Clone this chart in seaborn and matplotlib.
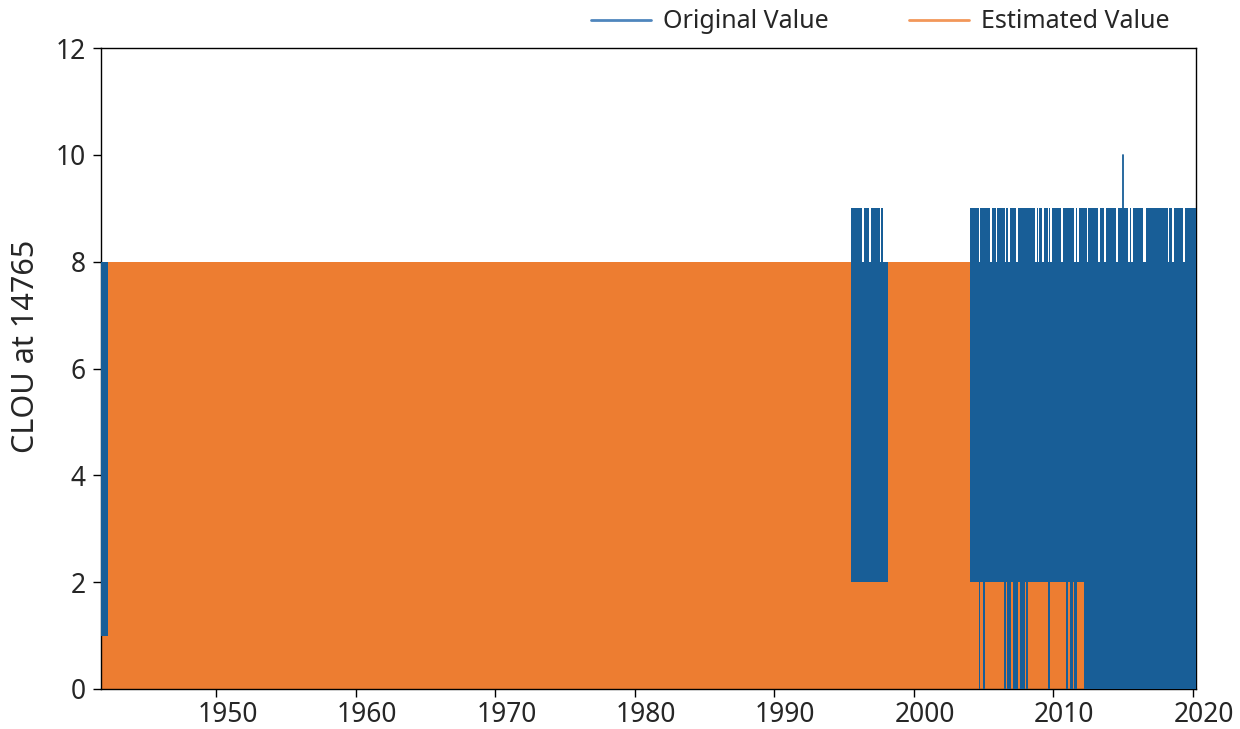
import matplotlib
matplotlib.use("Agg")
import matplotlib.pyplot as plt
import matplotlib.transforms as mtransforms
from matplotlib.lines import Line2D
import numpy as np
import pandas as pd
import seaborn as sns

# ---------------- data (years as decimal, values in oktas) ----------------
station = "14765"
variable = "CLOU"
x_min, x_max = 1941.73, 2020.22
x_ticks = [1950, 1960, 1970, 1980, 1990, 2000, 2010, 2020]
y_ticks = [0, 2, 4, 6, 8, 10, 12]

# Estimated value: dense series filling the range between low and high
est_start = [1941.73]
est_end = [2012.19]
est_low = [0]
est_high = [8]

# Original value: dense blocks (range covered between low and high)
orig_start = [1941.73, 1995.51, 2004.00, 2012.19]
orig_end = [1942.21, 1998.12, 2012.19, 2020.22]
orig_low = [1, 2, 2, 0]
orig_high = [8, 8, 8, 8]

# Original value reaching 9 (periods) and gaps where it does not
peak_start = [1995.51, 2004.00]
peak_end = [1997.76, 2020.22]
peak_value = 9
peak_gap_start = [1996.31, 1996.81, 1997.57,
                  2004.37, 2004.68, 2004.85, 2005.49, 2005.89, 2006.53, 2006.78,
                  2007.35, 2008.71, 2008.89, 2009.21, 2009.58, 2009.79, 2010.55,
                  2011.51, 2011.72, 2012.38, 2013.20, 2013.63, 2014.52, 2015.38,
                  2015.59, 2016.43, 2018.18, 2018.53, 2019.32]
peak_gap_end = [1996.39, 1996.89, 1997.65,
                2004.40, 2004.71, 2004.88, 2005.63, 2005.99, 2006.61, 2006.86,
                2007.43, 2008.79, 2008.97, 2009.29, 2009.68, 2009.87, 2010.69,
                2011.59, 2011.80, 2012.48, 2013.34, 2013.77, 2014.66, 2015.46,
                2015.67, 2016.61, 2018.26, 2018.61, 2019.40]

# Original value dropping to 0 inside the 2004-2012 block
dip_start = [2004.67, 2004.92, 2006.48, 2006.67, 2007.10, 2007.57, 2008.04,
             2009.63, 2010.90, 2011.19, 2011.48]
dip_end = [2004.77, 2005.10, 2006.60, 2006.94, 2007.43, 2007.93, 2008.18,
           2009.76, 2011.08, 2011.37, 2011.67]
dip_value = 0

# Single spike of the original series
spike_year = [2014.97]
spike_value = [10]

# ---------------- style ----------------
sns.set_style("ticks")
plt.rcParams["font.family"] = ["Noto Sans", "DejaVu Sans"]

c_orig = "#185e97"
c_est = "#ed7d31"

fig = plt.figure(figsize=(12.4, 7.29), dpi=100)
ax = fig.add_axes([0.0815, 0.055, 0.883, 0.879])

# Estimated value
for s, e, lo, hi in zip(est_start, est_end, est_low, est_high):
    ax.fill_between([s, e], [lo, lo], [hi, hi], color=c_est, linewidth=0, zorder=2)

# Original value blocks
for s, e, lo, hi in zip(orig_start, orig_end, orig_low, orig_high):
    ax.fill_between([s, e], [lo, lo], [hi, hi], color=c_orig, linewidth=0, zorder=3)

# Original value at 9, minus gaps
gaps = sorted(zip(peak_gap_start, peak_gap_end))
for s, e in zip(peak_start, peak_end):
    cur = s
    for gs, ge in gaps:
        if gs >= s and ge <= e:
            ax.fill_between([cur, gs], [8, 8], [peak_value, peak_value],
                            color=c_orig, linewidth=0, zorder=3)
            cur = ge
    ax.fill_between([cur, e], [8, 8], [peak_value, peak_value],
                    color=c_orig, linewidth=0, zorder=3)

# Original value dipping to 0
for s, e in zip(dip_start, dip_end):
    ax.fill_between([s, e], [dip_value, dip_value], [2, 2],
                    color=c_orig, linewidth=0, zorder=3)

# Spike
spike_df = pd.DataFrame({
    "year": [spike_year[0], spike_year[0]],
    "value": [8, spike_value[0]],
})
sns.lineplot(data=spike_df, x="year", y="value", ax=ax, color=c_orig,
             linewidth=1.3, estimator=None, sort=False, zorder=4)

ax.set_xlim(x_min, x_max)
ax.set_ylim(0, 12)
ax.set_xticks(x_ticks)
ax.set_xticklabels([str(t) for t in x_ticks])
ax.set_yticks(y_ticks)
ax.set_xlabel("")
ax.set_ylabel(f"{variable} at {station}", fontsize=22)
ax.yaxis.set_label_coords(-0.0545, 0.535)
ax.tick_params(labelsize=19, length=6, width=1, color="black", pad=5)
ax.tick_params(axis="x", pad=3)
# x tick labels sit slightly to the right of their ticks in the original
offset = mtransforms.ScaledTranslation(11 / 100, 0, fig.dpi_scale_trans)
for lab in ax.get_xticklabels():
    lab.set_transform(lab.get_transform() + offset)
for sp in ax.spines.values():
    sp.set_visible(True)
    sp.set_color("black")
    sp.set_linewidth(1.0)

handles = [Line2D([0], [0], color="#4f86bd", lw=2),
           Line2D([0], [0], color="#f2975a", lw=2)]
fig.legend(handles, ["Original Value", "Estimated Value"], ncol=2,
           loc="center right", bbox_to_anchor=(0.9615, 0.970), frameon=False,
           fontsize=18, handlelength=2.4, columnspacing=3.2, handletextpad=0.5)

fig.savefig("out.png", dpi=100)
